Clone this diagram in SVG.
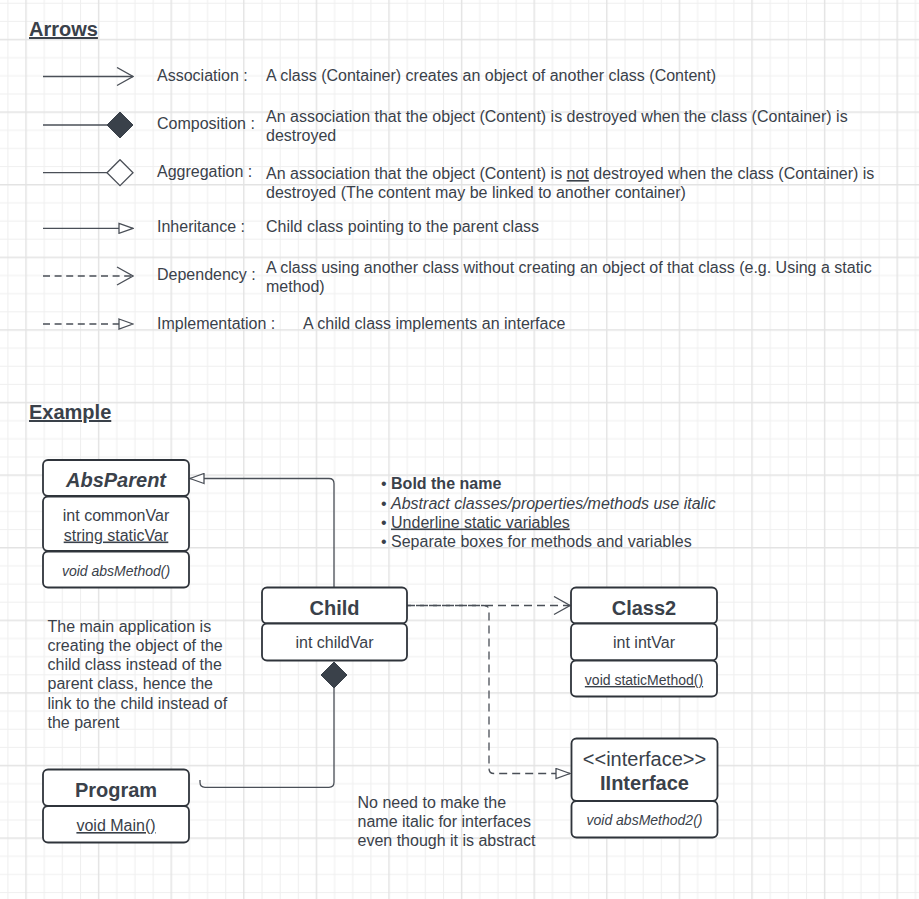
<svg xmlns="http://www.w3.org/2000/svg" width="919" height="899" viewBox="0 0 919 899">
<style>
text{font-family:"Liberation Sans",Arial,sans-serif;fill:#3a414a;}
.t16{font-size:16px;}
.title{font-size:20px;font-weight:bold;text-decoration:underline;}
.cname{font-size:20px;font-weight:bold;text-anchor:middle;}
.cvar{font-size:16px;text-anchor:middle;}
.cmeth{font-size:14px;text-anchor:middle;}
.it{font-style:italic;}
.ul{text-decoration:underline;}
.box{fill:#ffffff;stroke:#2f343b;stroke-width:1.8;}
.ln{fill:none;stroke:#4a4f57;stroke-width:1.3;}
.dash{stroke-dasharray:7 4.6;}
.dash2{stroke-dasharray:8 5;}
</style>
<defs>
<pattern id="grid" patternUnits="userSpaceOnUse" x="25.3" y="38.8" width="72.6" height="72.6">
<rect x="0" y="0" width="72.6" height="72.6" fill="#ffffff"/>
<path d="M18.9,0V72.6M37.05,0V72.6M55.2,0V72.6M0,18.9H72.6M0,37.05H72.6M0,55.2H72.6" stroke="#efefef" stroke-width="1"/>
<path d="M0.7,0V72.6M0,0.7H72.6" stroke="#e3e3e3" stroke-width="1.4"/>
</pattern>
<marker id="open" markerUnits="userSpaceOnUse" viewBox="0 0 18 20" refX="17" refY="10" markerWidth="18" markerHeight="20" orient="auto">
<path d="M1,1L17,10L1,19" fill="none" stroke="#4a4f57" stroke-width="1.3"/>
</marker>
<marker id="dfill" markerUnits="userSpaceOnUse" viewBox="0 0 28 28" refX="27" refY="14" markerWidth="28" markerHeight="28" orient="auto">
<path d="M1,14L14,1L27,14L14,27Z" fill="#3a414a" stroke="#3a414a" stroke-width="1"/>
</marker>
<marker id="dfillstart" markerUnits="userSpaceOnUse" viewBox="0 0 28 28" refX="1" refY="14" markerWidth="28" markerHeight="28" orient="auto">
<path d="M1,14L14,1L27,14L14,27Z" fill="#3a414a" stroke="#3a414a" stroke-width="1"/>
</marker>
<marker id="dopen" markerUnits="userSpaceOnUse" viewBox="0 0 28 28" refX="27" refY="14" markerWidth="28" markerHeight="28" orient="auto">
<path d="M1,14L14,1L27,14L14,27Z" fill="#ffffff" stroke="#4a4f57" stroke-width="1.3"/>
</marker>
<marker id="tri" markerUnits="userSpaceOnUse" viewBox="0 0 16 12" refX="15" refY="6" markerWidth="16" markerHeight="12" orient="auto">
<path d="M1,1L15,6L1,11Z" fill="#ffffff" stroke="#4a4f57" stroke-width="1.3"/>
</marker>
</defs>
<rect x="0" y="0" width="919" height="899" fill="url(#grid)"/>

<g id="headings">
<text class="title" x="29" y="36">Arrows</text>
<text class="title" x="29" y="419">Example</text>
</g>

<g id="legend">
<path class="ln" d="M43,76.5H133" marker-end="url(#open)"/>
<path class="ln" d="M43,125H133" marker-end="url(#dfill)"/>
<path class="ln" d="M43,172.7H133" marker-end="url(#dopen)"/>
<path class="ln" d="M43,228.3H133" marker-end="url(#tri)"/>
<path class="ln dash" d="M43,276H133" marker-end="url(#open)"/>
<path class="ln dash" d="M43,324H133" marker-end="url(#tri)"/>
<text class="t16" x="157" y="81">Association :</text>
<text class="t16" x="266" y="81">A class (Container) creates an object of another class (Content)</text>
<text class="t16" x="157" y="129">Composition :</text>
<text class="t16" x="266" y="122">An association that the object (Content) is destroyed when the class (Container) is</text>
<text class="t16" x="266" y="141">destroyed</text>
<text class="t16" x="157" y="177">Aggregation :</text>
<text class="t16" x="266" y="179">An association that the object (Content) is <tspan class="ul">not</tspan> destroyed when the class (Container) is</text>
<text class="t16" x="266" y="198">destroyed (The content may be linked to another container)</text>
<text class="t16" x="157" y="232">Inheritance :</text>
<text class="t16" x="266" y="232">Child class pointing to the parent class</text>
<text class="t16" x="157" y="280">Dependency :</text>
<text class="t16" x="266" y="273">A class using another class without creating an object of that class (e.g. Using a static</text>
<text class="t16" x="266" y="292">method)</text>
<text class="t16" x="157" y="328.5">Implementation :</text>
<text class="t16" x="303" y="328.5">A child class implements an interface</text>
</g>

<g id="connectors">
<path class="ln" d="M334,587V483.5Q334,478.5 329,478.5H190" marker-end="url(#tri)"/>
<path class="ln dash2" d="M407,605.5H570" marker-end="url(#open)"/>
<path class="ln dash2" style="stroke-dashoffset:4" d="M407,605.5H484Q489,605.5 489,610.5V768.5Q489,773.5 494,773.5H570" marker-end="url(#tri)"/>
<path class="ln" d="M334,662V782.3Q334,787.3 329,787.3H205Q200,787.3 200,782.3V780" marker-start="url(#dfillstart)"/>
</g>

<g id="AbsParent">
<rect class="box" x="43" y="460" width="146" height="36" rx="5"/>
<rect class="box" x="43" y="496.5" width="146" height="54.5" rx="5"/>
<rect class="box" x="43" y="551.5" width="146" height="36" rx="5"/>
<text class="cname it" x="116" y="487">AbsParent</text>
<text class="cvar" x="116" y="521">int commonVar</text>
<text class="cvar ul" x="116" y="540.5">string staticVar</text>
<text class="cmeth it" x="116" y="576">void absMethod()</text>
</g>

<g id="Child">
<rect class="box" x="262" y="587.5" width="145" height="36" rx="5"/>
<rect class="box" x="262" y="623.5" width="145" height="37" rx="5"/>
<text class="cname" x="334.5" y="615">Child</text>
<text class="cvar" x="334.5" y="648">int childVar</text>
</g>

<g id="Class2">
<rect class="box" x="571" y="587.5" width="146" height="36" rx="5"/>
<rect class="box" x="571" y="623.5" width="146" height="37" rx="5"/>
<rect class="box" x="571" y="660.5" width="146" height="36" rx="5"/>
<text class="cname" x="644" y="615">Class2</text>
<text class="cvar" x="644" y="648">int intVar</text>
<text class="cmeth ul" x="644" y="685">void staticMethod()</text>
</g>

<g id="Program">
<rect class="box" x="43" y="769.5" width="146" height="36.5" rx="5"/>
<rect class="box" x="43" y="806" width="146" height="36.5" rx="5"/>
<text class="cname" x="116" y="797">Program</text>
<text class="cvar ul" x="116" y="831">void Main()</text>
</g>

<g id="IInterface">
<rect class="box" x="571.5" y="738.5" width="146" height="62.5" rx="5"/>
<rect class="box" x="571.5" y="801" width="146" height="36.5" rx="5"/>
<text class="cvar" style="font-size:20px" x="644.5" y="766">&lt;&lt;interface&gt;&gt;</text>
<text class="cname" x="644.5" y="790">IInterface</text>
<text class="cmeth it" x="644.5" y="825">void absMethod2()</text>
</g>

<g id="rules-note">
<text class="t16" x="381" y="489">• <tspan font-weight="bold">Bold the name</tspan></text>
<text class="t16" x="381" y="508.5">• <tspan class="it">Abstract classes/properties/methods use italic</tspan></text>
<text class="t16" x="381" y="527.5">• <tspan class="ul">Underline static variables</tspan></text>
<text class="t16" x="381" y="547">• Separate boxes for methods and variables</text>
</g>

<g id="main-note">
<text class="t16" x="47.5" y="631.5">The main application is</text>
<text class="t16" x="47.5" y="650.8">creating the object of the</text>
<text class="t16" x="47.5" y="670.1">child class instead of the</text>
<text class="t16" x="47.5" y="689.4">parent class, hence the</text>
<text class="t16" x="47.5" y="708.7">link to the child instead of</text>
<text class="t16" x="47.5" y="728">the parent</text>
</g>

<g id="interface-note">
<text class="t16" x="357.5" y="807.5">No need to make the</text>
<text class="t16" x="357.5" y="826.8">name italic for interfaces</text>
<text class="t16" x="357.5" y="846">even though it is abstract</text>
</g>
</svg>
